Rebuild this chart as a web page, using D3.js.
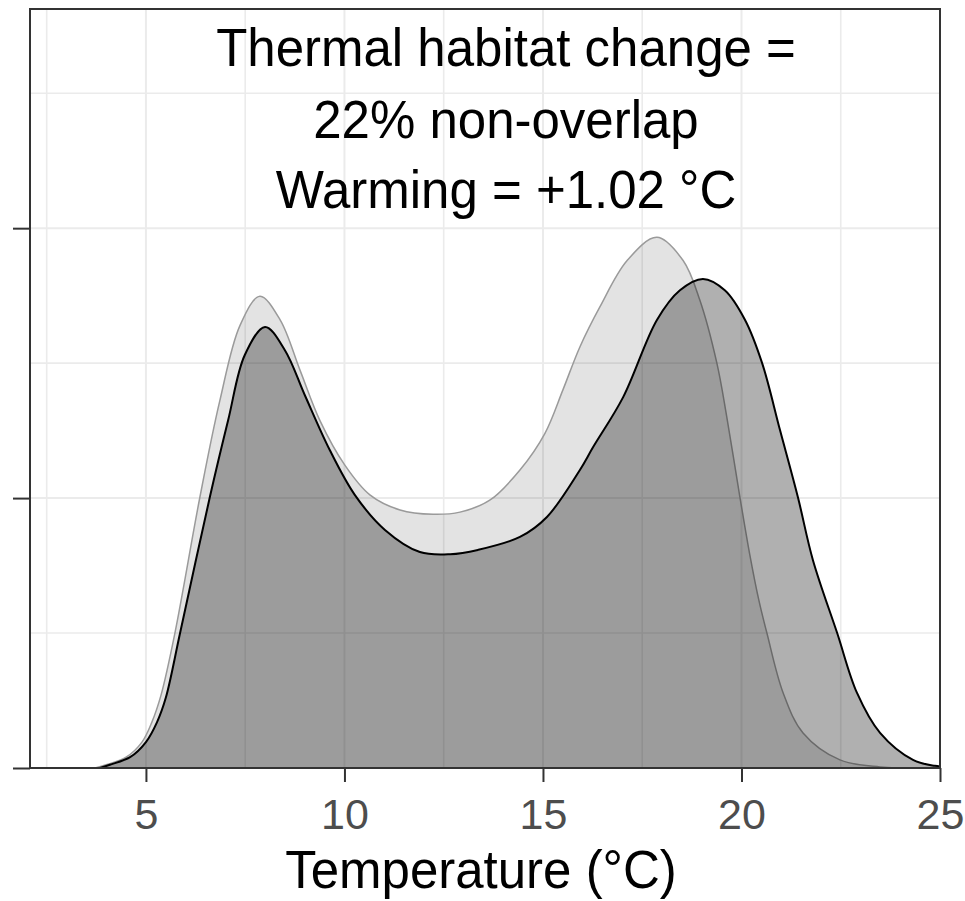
<!DOCTYPE html>
<html>
<head>
<meta charset="utf-8">
<script src="https://cdn.jsdelivr.net/npm/d3@7"></script>
<style>
  html, body { margin: 0; padding: 0; background: #fff; }
  text { font-family: "Liberation Sans", Arial, sans-serif; }
</style>
</head>
<body>
<div id="chart"></div>
<script>
// historical temperatures (light curve)
const histTemp = [3.72, 4.0, 4.5, 4.9, 5.15, 5.38, 5.73, 6.36, 6.86, 7.37, 7.87, 8.38, 8.88, 9.38, 10.01, 10.64, 11.4, 12.23, 12.91, 13.66, 14.42, 15.05, 15.5, 15.93, 16.44, 17.12, 17.87, 18.53, 18.95, 19.38, 19.63, 19.96, 20.21, 20.44, 20.64, 21.05, 21.55, 22.48, 23.49, 25];
const histDensity = [0, 0.0006, 0.002, 0.0048, 0.0085, 0.0135, 0.025, 0.0502, 0.068, 0.082, 0.0874, 0.083, 0.0737, 0.0644, 0.0561, 0.0506, 0.0478, 0.047, 0.0474, 0.0496, 0.0552, 0.062, 0.07, 0.078, 0.0855, 0.094, 0.0983, 0.094, 0.0867, 0.075, 0.065, 0.0502, 0.0395, 0.031, 0.025, 0.0139, 0.0065, 0.0015, 0.0002, 0];

// recent temperatures (dark curve)
const recentTemp = [3.84, 4.09, 4.6, 5.0, 5.28, 5.5, 5.86, 6.61, 7.07, 7.49, 8.0, 8.5, 9.0, 9.63, 10.26, 11.02, 11.9, 12.66, 13.36, 14.42, 15.1, 15.93, 16.26, 17.02, 17.87, 18.45, 19.03, 19.58, 20.09, 20.52, 20.97, 21.42, 21.8, 22.41, 22.91, 23.49, 24.32, 24.87, 25];
const recentDensity = [0, 0.0006, 0.002, 0.0048, 0.0085, 0.013, 0.025, 0.0502, 0.0644, 0.0765, 0.0817, 0.0774, 0.0691, 0.0589, 0.0506, 0.0441, 0.04, 0.0396, 0.0404, 0.0428, 0.0465, 0.0552, 0.0594, 0.0687, 0.083, 0.0885, 0.0906, 0.0885, 0.083, 0.075, 0.0626, 0.0502, 0.0385, 0.025, 0.0139, 0.0065, 0.0015, 0.0004, 0.0003];

const xTicks = [5, 10, 15, 20, 25];
const xMinor = [2.5, 7.5, 12.5, 17.5, 22.5];
const yTicks = [0, 0.05, 0.1];
const yMinor = [0.025, 0.075, 0.125];
const titleLines = ['Thermal habitat change =', '22% non-overlap', 'Warming = +1.02 °C'];

const width = 965, height = 901;
const margin = { top: 9, right: 25, bottom: 133, left: 30 };

const svg = d3.select('#chart').append('svg')
  .attr('width', width)
  .attr('height', height);

const x = d3.scaleLinear().domain([2.08, 25]).range([margin.left, width - margin.right]);
const y = d3.scaleLinear().domain([0, 0.1406]).range([height - margin.bottom, margin.top]);

const x0 = margin.left, x1 = width - margin.right;
const y0 = height - margin.bottom, y1 = margin.top;

// grid
const grid = svg.append('g');
grid.selectAll('.vminor').data(xMinor).enter().append('line')
  .attr('x1', d => x(d)).attr('x2', d => x(d))
  .attr('y1', y1).attr('y2', y0)
  .attr('stroke', '#ebebeb').attr('stroke-width', 1.6);
grid.selectAll('.hminor').data(yMinor).enter().append('line')
  .attr('x1', x0).attr('x2', x1)
  .attr('y1', d => y(d)).attr('y2', d => y(d))
  .attr('stroke', '#ebebeb').attr('stroke-width', 1.6);
grid.selectAll('.vmajor').data(xTicks).enter().append('line')
  .attr('x1', d => x(d)).attr('x2', d => x(d))
  .attr('y1', y1).attr('y2', y0)
  .attr('stroke', '#ebebeb').attr('stroke-width', 2);
grid.selectAll('.hmajor').data(yTicks).enter().append('line')
  .attr('x1', x0).attr('x2', x1)
  .attr('y1', d => y(d)).attr('y2', d => y(d))
  .attr('stroke', '#ebebeb').attr('stroke-width', 2);

// density curves
const hist = histTemp.map((t, i) => ({ t, d: histDensity[i] }));
const recent = recentTemp.map((t, i) => ({ t, d: recentDensity[i] }));

const area = d3.area()
  .x(p => x(p.t)).y0(y(0)).y1(p => Math.min(y(0), y(p.d)))
  .curve(d3.curveCatmullRom.alpha(0.5));
const line = d3.line()
  .x(p => x(p.t)).y(p => y(p.d))
  .curve(d3.curveCatmullRom.alpha(0.5));

svg.append('path').datum(hist)
  .attr('d', area)
  .attr('fill', '#000').attr('fill-opacity', 0.11);
svg.append('path').datum(hist)
  .attr('d', line)
  .attr('fill', 'none').attr('stroke', '#9a9a9a').attr('stroke-width', 1.5);

svg.append('path').datum(recent)
  .attr('d', area)
  .attr('fill', '#000').attr('fill-opacity', 0.31);
svg.append('path').datum(recent)
  .attr('d', line)
  .attr('fill', 'none').attr('stroke', '#000').attr('stroke-width', 2);

// panel border
svg.append('rect')
  .attr('x', x0).attr('y', y1)
  .attr('width', x1 - x0).attr('height', y0 - y1)
  .attr('fill', 'none').attr('stroke', '#333').attr('stroke-width', 2);

// x axis
const xAxis = svg.append('g')
  .attr('transform', `translate(0,${y0})`)
  .call(d3.axisBottom(x).tickValues(xTicks).tickSize(14).tickPadding(16).tickFormat(d3.format('d')));
xAxis.select('.domain').remove();
xAxis.selectAll('.tick line').attr('stroke', '#333').attr('stroke-width', 2);
xAxis.selectAll('.tick text')
  .attr('fill', '#4d4d4d')
  .style('font-size', '43px')
  .style('font-family', '"Liberation Sans", Arial, sans-serif');

// y axis, ticks only
const yAxis = svg.append('g')
  .attr('transform', `translate(${x0},0)`)
  .call(d3.axisLeft(y).tickValues(yTicks).tickSize(17).tickFormat(''));
yAxis.select('.domain').remove();
yAxis.selectAll('.tick line').attr('stroke', '#333').attr('stroke-width', 2);

// axis title
svg.append('text')
  .attr('transform', `translate(${(x0 + x1) / 2 - 4},888) scale(1,1.06)`)
  .attr('text-anchor', 'middle')
  .style('font-size', '51px')
  .attr('fill', '#000')
  .text('Temperature (°C)');

// annotation
svg.append('g').selectAll('text').data(titleLines).enter().append('text')
  .attr('transform', (d, i) => `translate(506,${[66, 138, 208][i]}) scale(1,1.07)`)
  .attr('text-anchor', 'middle')
  .style('font-size', '51px')
  .attr('fill', '#000')
  .text(d => d);
</script>
</body>
</html>
